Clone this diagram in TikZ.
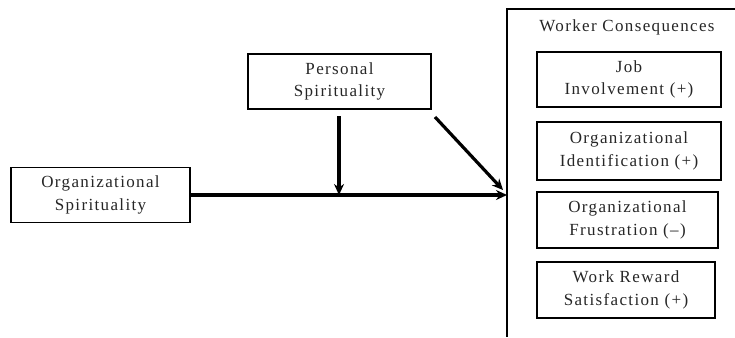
\documentclass[tikz,border=0pt]{standalone}
\usepackage{fontspec}
\setmainfont[LetterSpace=8]{Liberation Serif}
\usetikzlibrary{arrows.meta}
\begin{document}
\begin{tikzpicture}[x=1pt,y=-1pt,
  txt/.style={font=\fontsize{17}{22.5}\selectfont,text=black!85},
  box/.style={txt,draw=black,line width=1.8pt,rectangle,inner sep=0pt,align=center},
  arr/.style={line width=3.2pt,-{Stealth[length=11pt,width=10pt]}}]
\useasboundingbox (0,0) rectangle (735,337);
\node[box,minimum width=179pt,minimum height=55pt] (os) at (100.5,195) {Organizational\\Spirituality};
\node[box,minimum width=183pt,minimum height=55pt] (ps) at (339.5,81.5) {Personal\\Spirituality};
\draw[line width=1.8pt] (735,9) -| (507,337);
\node[txt] (wc) at (627,27) {Worker Consequences};
\node[box,minimum width=184pt,minimum height=55pt] (job) at (629,79.5) {Job\\Involvement (+)};
\node[box,minimum width=184pt,minimum height=58pt] (oid) at (629,151) {Organizational\\Identification (+)};
\node[box,minimum width=181pt,minimum height=56pt] (ofr) at (627.5,220) {Organizational\\Frustration (--)};
\node[box,minimum width=178pt,minimum height=56pt] (wrs) at (626,290) {Work Reward\\Satisfaction (+)};
\coordinate (end) at (507,195);
\coordinate (vtop) at (339,116);
\coordinate (vend) at (339,195);
\coordinate (dtop) at (435,117);
\coordinate (dend) at (503,190);
\draw[arr] (os.east) -- (end);
\draw[arr] (vtop) -- (vend);
\draw[arr] (dtop) -- (dend);
\end{tikzpicture}
\end{document}
